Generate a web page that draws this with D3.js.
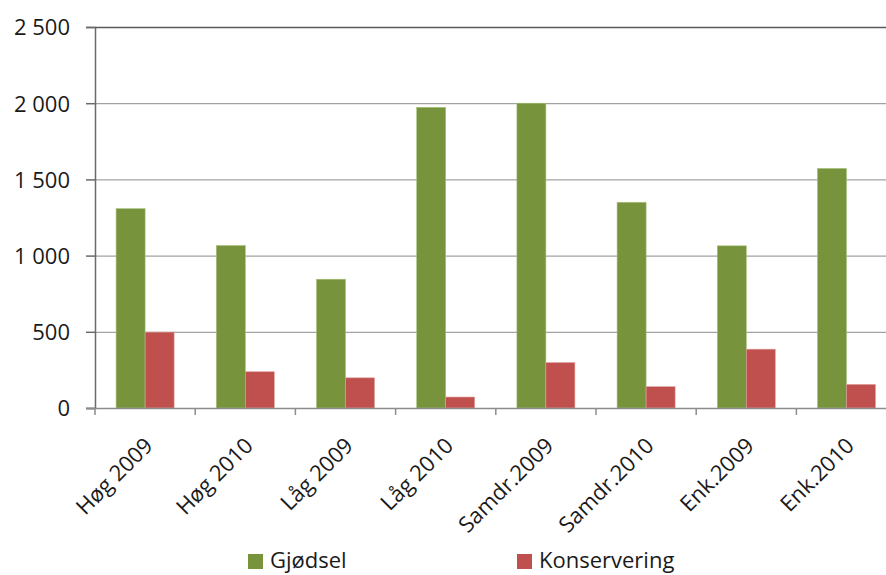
<!DOCTYPE html>
<html>
<head>
<meta charset="utf-8">
<script src="https://cdn.jsdelivr.net/npm/d3@7"></script>
<style>
	body { margin: 0; background: #fff; }
	svg text { font-family: "Open Sans", sans-serif; fill: #1a1a1a; }
</style>
</head>
<body>
<div class="chart"></div>
<script>
// values
const categories = ["Høg 2009", "Høg 2010", "Låg 2009", "Låg 2010", "Samdr.2009", "Samdr.2010", "Enk.2009", "Enk.2010"];
const seriesNames = ["Gjødsel", "Konservering"];
const gjodsel = [1308, 1066, 845, 1973, 2000, 1350, 1064, 1572];
const konservering = [498, 238, 198, 72, 298, 140, 386, 155];
const yTicks = [0, 500, 1000, 1500, 2000, 2500];
const colors = ["#77933C", "#C0504D"];

let width = 886, height = 575;
let plotLeft = 95, plotTop = 27, plotBottom = 408;

let svg = d3.select(".chart")
	.append("svg")
	.attr("width", width)
	.attr("height", height);

let x = d3.scaleBand()
	.domain(categories)
	.range([plotLeft, plotLeft + 8 * 100.2]);

let x1 = d3.scaleBand()
	.domain(seriesNames)
	.range([0, x.bandwidth()])
	.paddingOuter(0.727);

let y = d3.scaleLinear()
	.domain([0, 2500])
	.range([plotBottom, plotTop]);

// gridlines
svg.append("g")
	.selectAll("line")
	.data(yTicks.filter(d => d > 0))
	.enter().append("line")
	.attr("x1", plotLeft)
	.attr("x2", width)
	.attr("y1", d => y(d) + 0.5)
	.attr("y2", d => y(d) + 0.5)
	.attr("stroke", d => d == 2500 ? "#5a5a5a" : "#8c8c8c")
	.attr("stroke-width", d => d == 2500 ? 1.5 : 1);

// bars
let rows = categories.map((c, i) => ({cat: c, vals: [gjodsel[i], konservering[i]]}));

svg.append("g")
	.selectAll("g")
	.data(rows)
	.enter().append("g")
	.attr("transform", d => "translate(" + x(d.cat) + ",0)")
	.selectAll("rect")
	.data(d => d.vals.map((v, k) => ({name: seriesNames[k], v: v, k: k})))
	.enter().append("rect")
	.attr("x", d => x1(d.name))
	.attr("width", x1.bandwidth())
	.attr("y", d => y(d.v))
	.attr("height", d => y(0) - y(d.v))
	.attr("fill", d => colors[d.k])
	.attr("stroke", d => d.k == 0 ? "#a9c27a" : "#e0a09e")
	.attr("stroke-width", 0.6);

// y axis
let yAxis = svg.append("g")
	.attr("transform", "translate(" + plotLeft + ",0)")
	.call(d3.axisLeft(y)
		.tickValues(yTicks)
		.tickSize(9)
		.tickPadding(16)
		.tickFormat(d => d3.format(",")(d).replace(",", " ")));
yAxis.select(".domain").attr("stroke", "#6a6a6a").attr("stroke-width", 1.5);
yAxis.selectAll(".tick line").attr("stroke", "#6a6a6a").attr("stroke-width", 1.5);
yAxis.selectAll(".tick text")
	.style("font-size", "22px")
	.attr("dy", "0.36em");

// x axis line and ticks at category borders
svg.append("line")
	.attr("x1", plotLeft - 9)
	.attr("x2", width)
	.attr("y1", plotBottom + 0.5)
	.attr("y2", plotBottom + 0.5)
	.attr("stroke", "#8c8c8c")
	.attr("stroke-width", 1.5);

svg.append("g")
	.selectAll("line")
	.data(categories)
	.enter().append("line")
	.attr("x1", d => x(d))
	.attr("x2", d => x(d))
	.attr("y1", plotBottom)
	.attr("y2", plotBottom + 7)
	.attr("stroke", "#8c8c8c")
	.attr("stroke-width", 1.5);

// x labels
svg.append("g")
	.selectAll("text")
	.data(categories)
	.enter().append("text")
	.attr("text-anchor", "end")
	.attr("transform", d => "translate(" + (x(d) + x.bandwidth() / 2 + 9) + ",447) rotate(-45)")
	.style("font-size", "22px")
	.text(d => d);

// legend
let legend = svg.append("g")
	.selectAll("g")
	.data(seriesNames)
	.enter().append("g")
	.attr("transform", (d, i) => "translate(" + (i == 0 ? 248 : 517) + ",0)");

legend.append("rect")
	.attr("y", 554)
	.attr("width", 15)
	.attr("height", 15)
	.attr("fill", (d, i) => colors[i]);

legend.append("text")
	.attr("x", 22)
	.attr("y", 568)
	.style("font-size", "22px")
	.text(d => d);
</script>
</body>
</html>
